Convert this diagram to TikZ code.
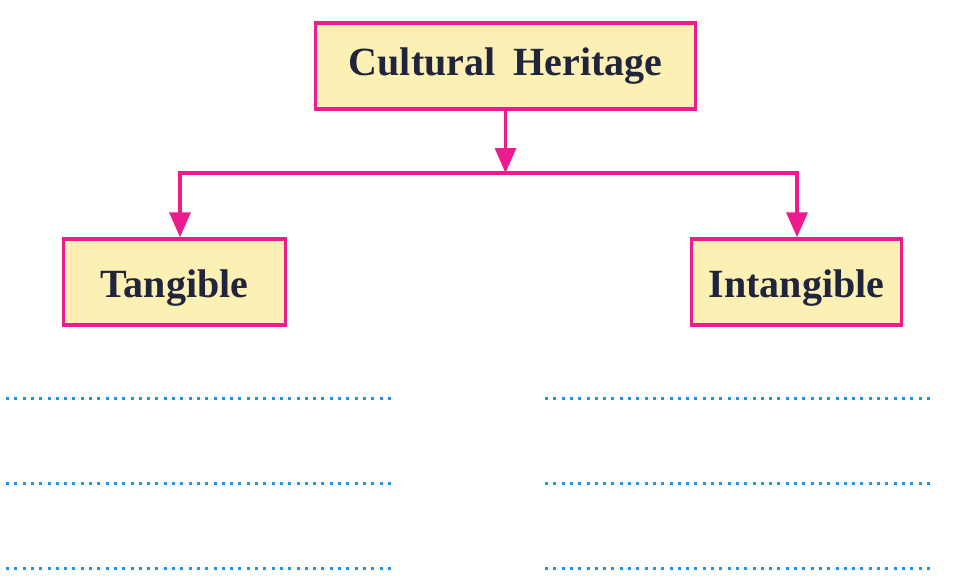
\documentclass[tikz,border=0pt]{standalone}
\usepackage{fontspec}
\setmainfont{Liberation Serif}
\usetikzlibrary{arrows.meta}
\definecolor{pinkline}{HTML}{EC1C8C}
\definecolor{boxfill}{HTML}{FCF0B4}
\definecolor{textnavy}{HTML}{20243C}
\definecolor{dotblue}{HTML}{1E96E0}
\tikzset{
    every picture/.append style={x=1pt, y=-1pt},
    box/.style={rectangle, draw=pinkline, fill=boxfill, line width=3.4pt,
    	inner sep=0pt, minimum height=86pt, text=textnavy,
    	text height=32pt, text depth=2pt,
    	font=\fontsize{40}{46}\selectfont\bfseries},
    link/.style={draw=pinkline, line width=3.4pt},
    pointer/.style={link, -{Triangle[length=25pt, width=21pt]}},
    writeline/.style={draw=dotblue, line width=3pt,
    	dash pattern=on 3pt off 5.3pt}
}

\begin{document}
\begin{tikzpicture}
  \useasboundingbox (0,0) rectangle (974,582);
  \node (heritage) [box, minimum width=380pt, text height=22pt, text depth=4pt]
    at (505.5, 66) {Cultural\hspace{0.45em}Heritage};
  \node (tangible) [box, minimum width=222pt] at (174.5, 282) {Tangible};
  \node (intangible) [box, minimum width=210pt] at (796.5, 282) {Intangible};
  \coordinate (split) at (505.5, 173);
  \coordinate (split_l) at (180, 173);
  \coordinate (split_r) at (797, 173);

  \draw [pointer] (heritage.south) -- (split);
  \draw [link] ([xshift=-1.7pt]split_l) -- ([xshift=1.7pt]split_r);
  \draw [pointer] (split_l) -- (split_l |- tangible.north);
  \draw [pointer] (split_r) -- (split_r |- intangible.north);

  % lines to write on
  \foreach \y in {398, 483, 568} {
    \draw [writeline] (6, \y) -- (394, \y);
    \draw [writeline] (545, \y) -- (933, \y);
  }
\end{tikzpicture}
\end{document}
